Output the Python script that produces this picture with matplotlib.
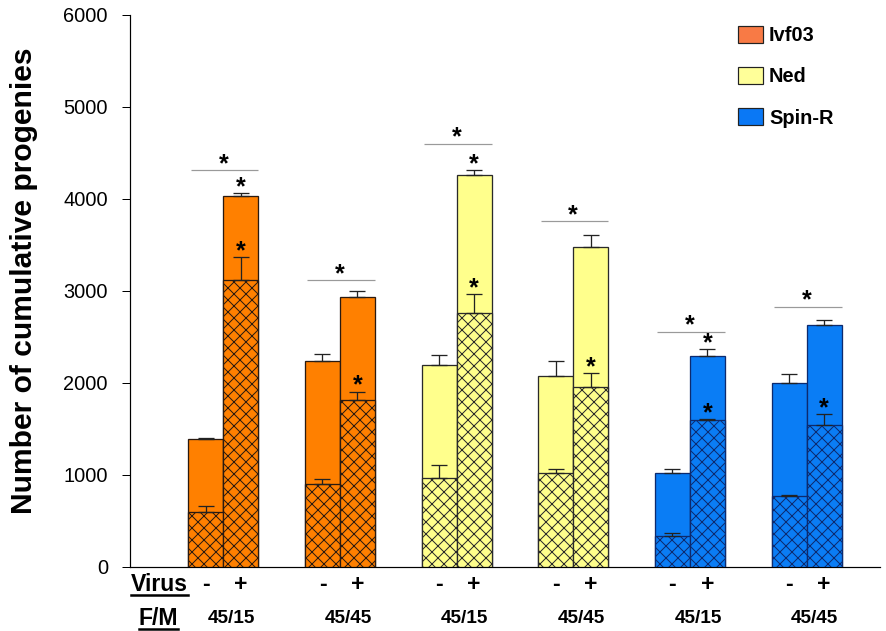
import matplotlib
matplotlib.use("Agg")
import matplotlib.pyplot as plt
from matplotlib.patches import Patch
from matplotlib.lines import Line2D
import numpy as np

plt.rcParams['font.family'] = ['Liberation Sans', 'DejaVu Sans']
plt.rcParams['hatch.linewidth'] = 1.0

# data
fm_labels = ['45/15', '45/45', '45/15', '45/45', '45/15', '45/45']
strains = ['Ivf03', 'Ivf03', 'Ned', 'Ned', 'Spin-R', 'Spin-R']

total_minus = [1390, 2240, 2200, 2080, 1025, 1995]
total_minus_err = [10, 70, 105, 160, 40, 100]
total_plus = [4030, 2935, 4260, 3480, 2295, 2635]
total_plus_err = [30, 65, 55, 130, 70, 55]

hatch_minus = [600, 900, 970, 1020, 335, 772]
hatch_minus_err = [60, 58, 135, 45, 38, 10]
hatch_plus = [3120, 1810, 2757, 1953, 1594, 1543]
hatch_plus_err = [250, 95, 205, 155, 10, 117]

bracket_y = [4315, 3120, 4600, 3760, 2558, 2830]
star_total_plus = [True, False, True, False, True, False]
star_hatch_plus = [True, True, True, True, True, True]

bar_colors = {'Ivf03': '#FF8000', 'Ned': '#FFFF8C', 'Spin-R': '#0A7DF5'}
edge_colors = {'Ivf03': '#2a1a10', 'Ned': '#2a2a2a', 'Spin-R': '#0d2a6e'}
legend_colors = {'Ivf03': '#F87A45', 'Ned': '#FFFF99', 'Spin-R': '#0A78F5'}

fig = plt.figure(figsize=(886 / 72, 631 / 72), dpi=72)
ax = fig.add_axes([130 / 886, 64 / 631, 750 / 886, 552 / 631])

x = np.arange(len(fm_labels))
w = 0.30
xm = x - w / 2
xp = x + w / 2
fc = [bar_colors[s] for s in strains]
ec = [edge_colors[s] for s in strains]

# full bars
ax.bar(xm, total_minus, w, color=fc, edgecolor=ec, linewidth=1.3, zorder=2)
ax.bar(xp, total_plus, w, color=fc, edgecolor=ec, linewidth=1.3, zorder=2)
# hatched part on top
ax.bar(xm, hatch_minus, w, color=fc, edgecolor=ec, linewidth=1.3, hatch='xx', zorder=3)
ax.bar(xp, hatch_plus, w, color=fc, edgecolor=ec, linewidth=1.3, hatch='xx', zorder=3)

zeros = np.zeros(len(x))
ekw = dict(fmt='none', ecolor='#222222', elinewidth=1.3, capsize=8, capthick=1.3, zorder=4)
ax.errorbar(xm, total_minus, yerr=[zeros, total_minus_err], **ekw)
ax.errorbar(xp, total_plus, yerr=[zeros, total_plus_err], **ekw)
ax.errorbar(xm, hatch_minus, yerr=[zeros, hatch_minus_err], **ekw)
ax.errorbar(xp, hatch_plus, yerr=[zeros, hatch_plus_err], **ekw)


def star(xx, yy):
    ax.annotate('*', xy=(xx, yy), xytext=(0, -6), textcoords='offset points',
                ha='center', va='bottom', fontsize=25, fontweight='bold', zorder=5)


for i in range(len(x)):
    ax.hlines(bracket_y[i], x[i] - 0.28, x[i] + 0.30, color='#9a9a9a', linewidth=1.2)
    star(x[i], bracket_y[i])
    if star_total_plus[i]:
        star(xp[i], total_plus[i] + total_plus_err[i])
    if star_hatch_plus[i]:
        star(xp[i], hatch_plus[i] + hatch_plus_err[i])

ax.set_xlim(-0.8, 5.63)
ax.set_ylim(0, 6000)
ax.set_yticks(np.arange(0, 6001, 1000))
ax.tick_params(axis='y', length=8, width=1, labelsize=20, pad=14)
ax.set_xticks([])
for side in ['top', 'right']:
    ax.spines[side].set_visible(False)
for side in ['left', 'bottom']:
    ax.spines[side].set_linewidth(1.2)

fig.text(24 / 886, 350 / 631, 'Number of cumulative progenies', rotation=90,
         ha='center', va='center', fontsize=30, fontweight='bold')

# labels under the axis
tr = ax.get_xaxis_transform()
t_virus = ax.text(-0.545, -0.0326, 'Virus', transform=tr, ha='center', va='center',
                  fontsize=23, fontweight='bold')
t_fm = ax.text(-0.555, -0.0924, 'F/M', transform=tr, ha='center', va='center',
               fontsize=23, fontweight='bold')
for i in range(len(x)):
    ax.text(xm[i], -0.0326, '-', transform=tr, ha='center', va='center',
            fontsize=23, fontweight='bold')
    ax.text(xp[i], -0.0326, '+', transform=tr, ha='center', va='center',
            fontsize=23, fontweight='bold')
    ax.text(x[i] + 0.07, -0.0924, fm_labels[i], transform=tr, ha='center', va='center',
            fontsize=19, fontweight='bold')

fig.canvas.draw()
r = fig.canvas.get_renderer()
for t in [t_virus, t_fm]:
    bb = t.get_window_extent(r)
    fig.add_artist(Line2D([bb.x0, bb.x1], [bb.y0 + 1, bb.y0 + 1], transform=None,
                          color='black', linewidth=2.5))

handles = [Patch(facecolor=legend_colors[s], edgecolor='#222222', linewidth=1.2)
           for s in ['Ivf03', 'Ned', 'Spin-R']]
ax.legend(handles, ['Ivf03', 'Ned', 'Spin-R'], loc='upper left',
          bbox_to_anchor=(738 / 886, 1 - 26 / 631), bbox_transform=fig.transFigure,
          frameon=False, prop={'size': 20, 'weight': 'bold'}, handlelength=1.25,
          handleheight=0.9, handletextpad=0.3, labelspacing=1.1, borderpad=0,
          borderaxespad=0)

fig.savefig('out.png', dpi=72)
